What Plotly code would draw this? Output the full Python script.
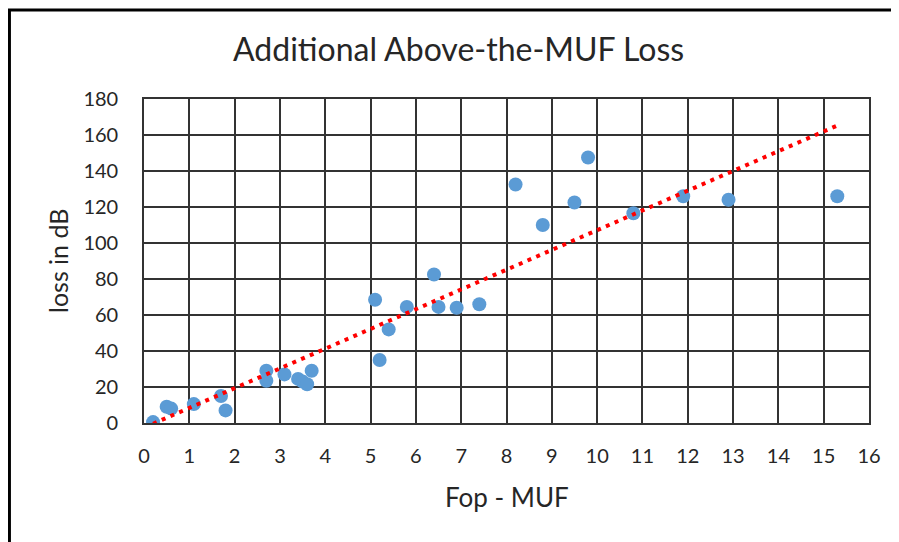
import numpy as np
import plotly.graph_objects as go

# Data
fop_minus_muf = [0.2, 0.5, 0.6, 1.1, 1.7, 1.8, 2.7, 2.7, 3.1, 3.4, 3.5, 3.6, 3.7,
                 5.1, 5.2, 5.4, 5.8, 6.4, 6.5, 6.9, 7.4,
                 8.2, 8.8, 9.5, 9.8, 10.8, 11.9, 12.9, 15.3]
loss_db = [0.5, 9, 8, 10.5, 15, 7, 29, 23.5, 27, 24.5, 23, 21.5, 29,
           68.5, 35, 52, 64.5, 82.5, 64.5, 64, 66,
           132.5, 110, 122.5, 147.5, 116.5, 126, 124, 126]
x_ticks = list(range(0, 17))
y_ticks = list(range(0, 181, 20))

title_text = "Additional Above-the-MUF Loss"
x_title = "Fop - MUF"
y_title = "loss in dB"

# Linear trendline (least squares), drawn over the data range
slope, intercept = np.polyfit(fop_minus_muf, loss_db, 1)
trend_x = [min(fop_minus_muf), max(fop_minus_muf)]
trend_y = [intercept + slope * v for v in trend_x]

FONT = "Lato"
TXT = "#262626"
GRID = "#333333"

fig = go.Figure()
fig.add_trace(go.Scatter(
    x=fop_minus_muf, y=loss_db, mode="markers",
    marker=dict(color="#5B9BD5", size=14, line=dict(width=0)),
    showlegend=False, hoverinfo="x+y"))
fig.add_trace(go.Scatter(
    x=trend_x, y=trend_y, mode="lines",
    line=dict(color="#FF0000", width=4, dash="4px,5.5px"),
    showlegend=False, hoverinfo="skip"))

axis_common = dict(
    showgrid=True, gridcolor=GRID, gridwidth=1.6,
    showline=True, linecolor=GRID, linewidth=1.6, mirror=True,
    zeroline=False, ticks="outside", tickcolor="rgba(0,0,0,0)",
    tickfont=dict(family=FONT, size=20, color=TXT),
    fixedrange=True,
)

fig.update_xaxes(range=[0, 16], tickmode="array", tickvals=x_ticks, ticklen=14,
                 ticktext=[str(v) for v in x_ticks], **axis_common)
fig.update_yaxes(range=[0, 180], tickmode="array", tickvals=y_ticks, ticklen=20,
                 ticktext=[str(v) for v in y_ticks], **axis_common)

fig.update_layout(
    width=891, height=534,
    margin=dict(l=136, r=30, t=91, b=119),
    paper_bgcolor="white", plot_bgcolor="white",
    annotations=[
        dict(text=title_text, xref="paper", yref="paper", x=0.434, y=1.157,
             xanchor="center", yanchor="middle", showarrow=False,
             font=dict(family=FONT, size=32, color=TXT)),
        dict(text=x_title, xref="paper", yref="paper", x=0.5, y=-0.228,
             xanchor="center", yanchor="middle", showarrow=False,
             font=dict(family=FONT, size=26, color=TXT)),
        dict(text=y_title, xref="paper", yref="paper", x=-0.1186, y=0.5,
             xanchor="center", yanchor="middle", showarrow=False, textangle=-90,
             font=dict(family=FONT, size=25, color=TXT)),
    ],
    shapes=[
        dict(type="line", xref="paper", yref="paper", x0=-0.1856, x1=-0.1856,
             y0=1.2747, y1=-0.45, line=dict(color="black", width=3)),
        dict(type="line", xref="paper", yref="paper", x0=-0.1876, x1=1.0386,
             y0=1.2747, y1=1.2747, line=dict(color="black", width=3)),
        dict(type="line", xref="paper", yref="paper", x0=1.0372, x1=1.0372,
             y0=1.2747, y1=-0.45, line=dict(color="black", width=2)),
    ],
)

fig.write_html("out.html")
